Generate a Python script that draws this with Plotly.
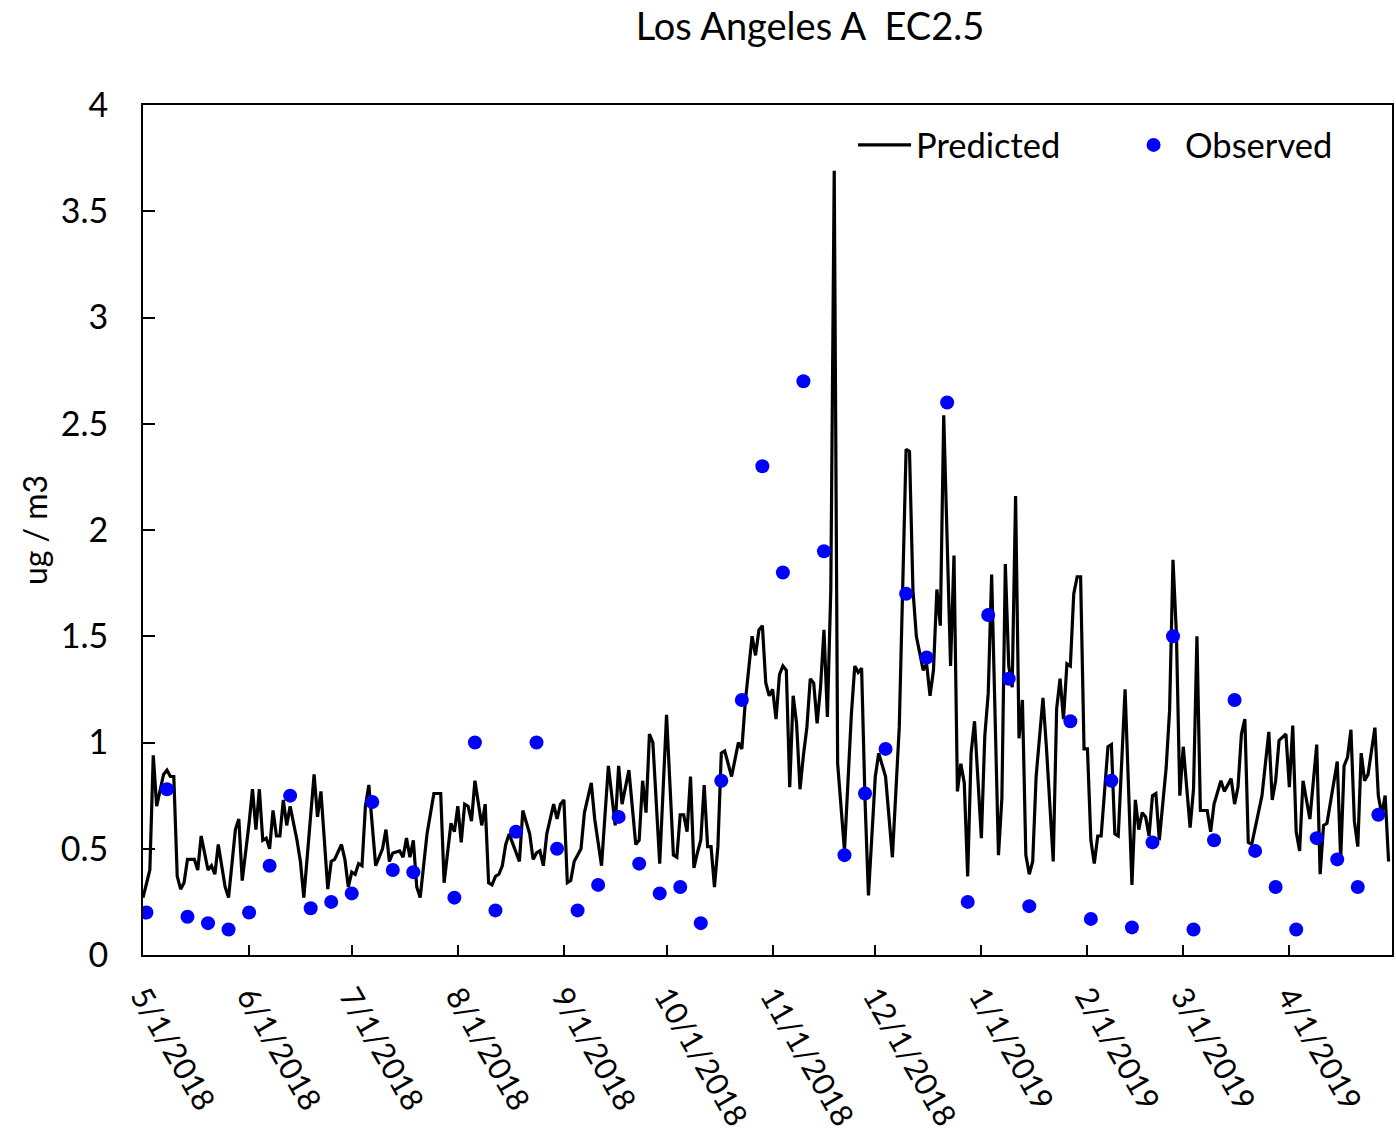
import datetime as dt
import plotly.graph_objects as go

START = dt.date(2018, 5, 1)

# Predicted (daily model) values: day offset from 5/1/2018 and value (ug/m3)
pred_day = [0, 2, 3, 4, 6, 7, 8, 9, 10, 11, 12, 13, 15, 16, 17, 19, 20, 21, 22, 24, 25, 27, 28, 29,
            31, 32, 33, 34, 35, 36, 37, 38, 39, 40, 41, 42, 43, 45, 46, 47, 50, 51, 52, 54, 55, 56,
            58, 59, 60, 61, 62, 63, 64, 65, 66, 68, 70, 71, 72, 73, 75, 76, 77, 78, 79, 80, 81, 83,
            85, 86, 87, 88, 90, 91, 92, 93, 94, 95, 96, 97, 99, 100, 101, 102, 103, 104, 105, 106,
            107, 110, 111, 113, 114, 115, 116, 117, 118, 120, 121, 122, 123, 124, 125, 126, 128,
            129, 131, 132, 134, 136, 138, 139, 140, 142, 144, 145, 146, 147, 148, 149, 151, 153,
            155, 156, 157, 158, 159, 160, 161, 162, 163, 164, 165, 166, 167, 168, 169, 170, 172,
            174, 175, 176, 178, 179, 180, 181, 182, 183, 184, 185, 186, 187, 188, 189, 190, 191,
            192, 193, 194, 195, 196, 197, 198, 199, 200, 201, 202, 203, 205, 207, 208, 209, 210,
            211, 212, 214, 215, 217, 219, 221, 223, 224, 225, 226, 228, 229, 230, 231, 232, 233,
            234, 236, 237, 238, 239, 240, 241, 242, 243, 245, 246, 247, 248, 250, 251, 252, 253,
            254, 255, 256, 257, 258, 259, 260, 261, 263, 264, 266, 267, 268, 269, 270, 271, 272,
            273, 274, 275, 276, 277, 278, 279, 280, 282, 283, 284, 285, 287, 289, 290, 291, 292,
            293, 294, 295, 296, 297, 299, 300, 301, 302, 303, 304, 305, 306, 307, 308, 309, 311,
            312, 313, 315, 316, 318, 319, 320, 321, 322, 323, 324, 325, 327, 329, 330, 331, 332,
            334, 335, 336, 337, 338, 339, 341, 343, 344, 345, 346, 349, 350, 351, 352, 353, 354,
            355, 356, 357, 358, 360, 361, 362, 363, 364]
pred_val = [0.27, 0.40, 0.94, 0.70, 0.85, 0.87, 0.84, 0.84, 0.37, 0.31, 0.34, 0.45, 0.45, 0.40,
            0.56, 0.40, 0.42, 0.38, 0.52, 0.32, 0.27, 0.59, 0.64, 0.35, 0.62, 0.78, 0.59, 0.78,
            0.54, 0.55, 0.50, 0.68, 0.56, 0.56, 0.73, 0.61, 0.70, 0.54, 0.44, 0.27, 0.85, 0.65,
            0.77, 0.31, 0.44, 0.45, 0.52, 0.45, 0.32, 0.39, 0.38, 0.43, 0.42, 0.70, 0.80, 0.42,
            0.50, 0.59, 0.44, 0.48, 0.49, 0.46, 0.55, 0.46, 0.54, 0.32, 0.27, 0.57, 0.76, 0.76,
            0.76, 0.34, 0.62, 0.58, 0.70, 0.53, 0.71, 0.70, 0.63, 0.82, 0.61, 0.71, 0.34, 0.33,
            0.37, 0.38, 0.42, 0.52, 0.57, 0.44, 0.68, 0.57, 0.45, 0.48, 0.49, 0.42, 0.57, 0.71,
            0.64, 0.71, 0.73, 0.34, 0.35, 0.44, 0.50, 0.67, 0.81, 0.64, 0.42, 0.89, 0.61, 0.89,
            0.71, 0.87, 0.52, 0.54, 0.82, 0.67, 1.04, 1.00, 0.43, 1.13, 0.47, 0.46, 0.66, 0.66,
            0.58, 0.84, 0.41, 0.48, 0.54, 0.80, 0.51, 0.51, 0.32, 0.51, 0.95, 0.96, 0.84, 1.00,
            0.97, 1.19, 1.50, 1.41, 1.53, 1.55, 1.28, 1.22, 1.25, 1.11, 1.32, 1.36, 1.34, 0.79,
            1.22, 1.09, 0.78, 0.94, 1.07, 1.30, 1.28, 1.09, 1.26, 1.53, 1.12, 1.72, 3.69, 0.90,
            0.49, 1.13, 1.36, 1.33, 1.35, 0.73, 0.28, 0.84, 0.95, 0.84, 0.46, 1.07, 2.38, 2.37,
            1.72, 1.50, 1.34, 1.37, 1.22, 1.34, 1.72, 1.55, 2.54, 1.36, 1.88, 0.77, 0.90, 0.81,
            0.37, 0.95, 1.10, 0.55, 1.03, 1.23, 1.79, 0.47, 0.74, 1.84, 1.36, 1.26, 2.16, 1.02,
            1.20, 0.47, 0.38, 0.44, 0.84, 1.21, 0.98, 0.44, 1.16, 1.30, 1.11, 1.37, 1.36, 1.70,
            1.78, 1.78, 0.97, 0.97, 0.54, 0.43, 0.56, 0.56, 0.98, 0.99, 0.57, 0.56, 1.25, 0.33,
            0.73, 0.59, 0.67, 0.65, 0.56, 0.75, 0.76, 0.54, 0.88, 1.15, 1.86, 1.51, 0.75, 0.98,
            0.79, 0.60, 0.78, 1.50, 0.68, 0.68, 0.58, 0.71, 0.82, 0.77, 0.83, 0.71, 0.79, 1.04,
            1.11, 0.53, 0.52, 0.60, 0.75, 1.05, 0.73, 0.82, 1.01, 1.04, 0.79, 1.08, 0.58, 0.49,
            0.82, 0.64, 0.99, 0.38, 0.61, 0.62, 0.91, 0.45, 0.89, 0.93, 1.06, 0.63, 0.51, 0.95,
            0.82, 0.85, 1.07, 0.75, 0.66, 0.75, 0.44]

# Observed filter samples: every 6th day starting 5/2/2018 (None = no sample)
obs_first_day = 1
obs_step = 6
obs_val = [0.20, 0.78, 0.18, 0.15, 0.12, 0.20, 0.42, 0.75, 0.22, 0.25, 0.29, 0.72, 0.40, 0.39,
           None, 0.27, 1.00, 0.21, 0.58, 1.00, 0.50, 0.21, 0.33, 0.65, 0.43, 0.29, 0.32, 0.15,
           0.82, 1.20, 2.30, 1.80, 2.70, 1.90, 0.47, 0.76, 0.97, 1.70, 1.40, 2.60, 0.25, 1.60,
           1.30, 0.23, None, 1.10, 0.17, 0.82, 0.13, 0.53, 1.50, 0.12, 0.54, 1.20, 0.49, 0.32,
           0.12, 0.55, 0.45, 0.32, 0.66]

# Month ticks
tick_months = [(2018, 5), (2018, 6), (2018, 7), (2018, 8), (2018, 9), (2018, 10), (2018, 11),
               (2018, 12), (2019, 1), (2019, 2), (2019, 3), (2019, 4)]
x_end = dt.date(2019, 5, 1)

title_text = "Los Angeles A\u00a0 EC2.5"
y_title = "ug / m3"

pred_x = [START + dt.timedelta(days=d) for d in pred_day]
obs_x = [START + dt.timedelta(days=obs_first_day + obs_step * i) for i in range(len(obs_val))]
tickvals = [dt.date(y, m, 1) for y, m in tick_months]
ticktext = [f"{m}/1/{y}" for y, m in tick_months]

FONT = "Lato"

fig = go.Figure()
fig.add_trace(go.Scatter(x=pred_x, y=pred_val, mode="lines", name="Predicted",
                         line=dict(color="black", width=3.2)))
fig.add_trace(go.Scatter(x=obs_x, y=obs_val, mode="markers", name="Observed",
                         marker=dict(color="#0000ff", size=14)))

fig.update_layout(
    width=1396, height=1139,
    margin=dict(l=143, r=4, t=105, b=184, autoexpand=False),
    paper_bgcolor="white", plot_bgcolor="white",
    font=dict(family=FONT, color="black", size=33),
    title=dict(text=title_text, font=dict(family=FONT, size=38, color="black"),
               x=0.534, xref="paper", xanchor="center",
               y=1 - 27 / 1139, yref="container", yanchor="middle"),
    showlegend=True,
    legend=dict(orientation="h", x=0.5685, y=0.953, xanchor="left", yanchor="middle",
                font=dict(family=FONT, size=34.5, color="black"),
                bgcolor="rgba(0,0,0,0)", itemwidth=53, entrywidth=201),
)
fig.update_xaxes(
    type="date", range=[START, x_end], automargin=False,
    tickvals=tickvals, ticktext=ticktext, tickangle=60,
    ticks="inside", ticklen=10, tickwidth=2, tickcolor="black",
    showline=True, linewidth=2, linecolor="black", mirror=True,
    showgrid=False, zeroline=False,
    tickfont=dict(family=FONT, size=31, color="black"),
    ticklabelstandoff=9,
)
fig.update_yaxes(
    range=[0, 4], dtick=0.5, tick0=0, automargin=False,
    ticks="inside", ticklen=12, tickwidth=2, tickcolor="black",
    showline=True, linewidth=2, linecolor="black", mirror=True,
    showgrid=False, zeroline=False,
    tickfont=dict(family=FONT, size=34, color="black"),
    ticklabelstandoff=26,
    title=dict(text=y_title, font=dict(family=FONT, size=32, color="black"), standoff=4),
)

fig.write_html("out.html")
